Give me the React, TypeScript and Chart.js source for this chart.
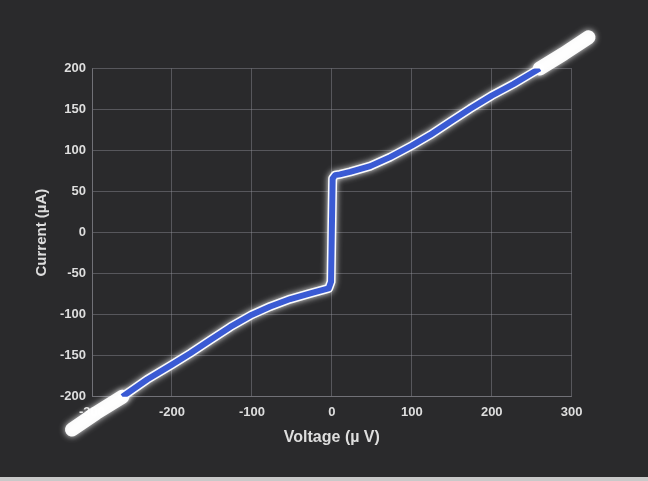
import React, { useEffect, useRef } from "react";
import { Chart, registerables } from "chart.js";

Chart.register(...registerables);

// Measured I–V sweep: voltage in µV, current in µA
const voltage = [-262, -231, -200, -177, -152, -127, -100, -77, -52, -27, -4, -1, 1, 4, 10, 23, 48, 73, 100, 123, 148, 173, 200, 227, 260];
const current = [-200, -179, -161, -147, -131, -115, -100, -90, -81, -74, -68, -60, 66, 70, 71, 74, 81, 92, 106, 119, 135, 151, 167, 181, 200];

// Raw trace that continues past the fitted range on both ends
const rawVoltageLow = [-325, -295, -262];
const rawCurrentLow = [-240, -220, -200];
const rawVoltageHigh = [260, 290, 321];
const rawCurrentHigh = [200, 218, 238];

const xTicks = [-300, -200, -100, 0, 100, 200, 300];
const yTicks = [-200, -150, -100, -50, 0, 50, 100, 150, 200];

const xTitle = "Voltage (µ V)";
const yTitle = "Current (µA)";

const toPoints = (xs: number[], ys: number[]) => xs.map((x, i) => ({ x, y: ys[i] }));

const glowPlugin = {
  id: "glow",
  beforeDatasetDraw(chart: any, args: any) {
    const ds = chart.data.datasets[args.index];
    if (ds.glow) {
      const ctx = chart.ctx;
      ctx.save();
      ctx.shadowColor = "rgba(255,255,255,0.9)";
      ctx.shadowBlur = ds.glow;
    }
  },
  afterDatasetDraw(chart: any, args: any) {
    const ds = chart.data.datasets[args.index];
    if (ds.glow) chart.ctx.restore();
  },
};

export default function App() {
  const canvasRef = useRef<HTMLCanvasElement | null>(null);

  useEffect(() => {
    if (!canvasRef.current) return;
    const tickColor = "#dedede";
    const gridColor = "rgba(150,150,160,0.42)";
    const fontFamily = "'Liberation Sans', Arial, sans-serif";

    const traceStyle = {
      borderColor: "rgba(255,255,255,0.97)",
      pointRadius: 0,
      tension: 0,
      borderCapStyle: "round",
      borderJoinStyle: "round",
      clip: false,
    };

    const chart = new Chart(canvasRef.current, {
      type: "line",
      data: {
        datasets: [
          {
            label: "fit",
            data: toPoints(voltage, current),
            borderColor: "#3a5ad4",
            borderWidth: 6,
            pointRadius: 0,
            tension: 0,
            borderCapStyle: "butt",
            borderJoinStyle: "round",
            order: 0,
          } as any,
          {
            label: "trace",
            data: toPoints(voltage, current),
            borderWidth: 9,
            glow: 6,
            order: 1,
            ...traceStyle,
          } as any,
          {
            label: "trace low",
            data: toPoints(rawVoltageLow, rawCurrentLow),
            borderWidth: 14,
            glow: 6,
            order: 1,
            ...traceStyle,
          } as any,
          {
            label: "trace high",
            data: toPoints(rawVoltageHigh, rawCurrentHigh),
            borderWidth: 14,
            glow: 6,
            order: 1,
            ...traceStyle,
          } as any,
        ],
      },
      options: {
        responsive: false,
        animation: false,
        events: [],
        layout: { padding: { left: 0, top: 68.5, right: 76.3, bottom: 0 } },
        plugins: { legend: { display: false }, tooltip: { enabled: false } },
        scales: {
          x: {
            type: "linear",
            min: -300,
            max: 300,
            afterBuildTicks: (scale: any) => {
              scale.ticks = xTicks.map((v) => ({ value: v }));
            },
            afterFit: (scale: any) => {
              scale.height = 84.3;
            },
            grid: { color: gridColor, drawTicks: false, lineWidth: 1 },
            border: { display: true, color: gridColor },
            ticks: {
              color: tickColor,
              padding: 8,
              font: { family: fontFamily, size: 13, weight: "bold" },
            },
            title: {
              display: true,
              text: xTitle,
              color: tickColor,
              padding: { top: 0, bottom: 34 },
              font: { family: fontFamily, size: 16, weight: "bold" },
            },
          },
          y: {
            type: "linear",
            min: -200,
            max: 200,
            afterBuildTicks: (scale: any) => {
              scale.ticks = yTicks.map((v) => ({ value: v }));
            },
            afterFit: (scale: any) => {
              scale.width = 92;
            },
            grid: { color: gridColor, drawTicks: false, lineWidth: 1 },
            border: { display: true, color: gridColor },
            ticks: {
              color: tickColor,
              padding: 6,
              font: { family: fontFamily, size: 13, weight: "bold" },
            },
            title: {
              display: true,
              text: yTitle,
              color: tickColor,
              padding: { top: 33, bottom: 0 },
              font: { family: fontFamily, size: 15, weight: "bold" },
            },
          },
        },
      } as any,
      plugins: [glowPlugin],
    });
    return () => chart.destroy();
  }, []);

  return (
    <div
      style={{
        position: "fixed",
        left: 0,
        top: 0,
        width: 648,
        height: 481,
        background: "linear-gradient(to bottom, #2a2a2c 0px, #2a2a2c 477px, #c9c9c9 477px)",
      }}
    >
      <canvas ref={canvasRef} width={648} height={481} style={{ display: "block" }} />
    </div>
  );
}
